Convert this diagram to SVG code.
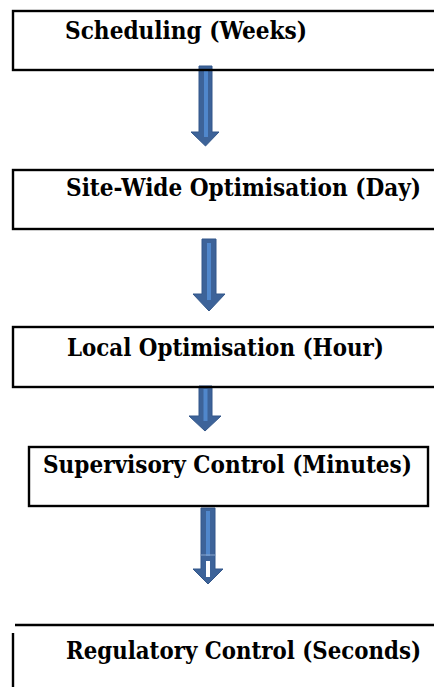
<svg xmlns="http://www.w3.org/2000/svg" width="434" height="687" viewBox="0 0 434 687">
<style>
.box{fill:none;stroke:#000;stroke-width:2.4}
.lbl{font-family:"DejaVu Serif Condensed","DejaVu Serif","Liberation Serif",serif;font-stretch:condensed;font-weight:bold;font-size:24px;fill:#000}
.arr{fill:#3d6399;stroke:#33578a;stroke-width:1}
.hl{fill:#5087cc}
</style>
<rect width="434" height="687" fill="#fff"/>
<g id="connectors">
  <g id="a1">
    <path class="arr" d="M199,66 H212 V132 H219 L205.5,146 L191,132 H199 Z"/>
    <rect class="hl" x="204" y="69" width="4" height="68"/>
  </g>
  <g id="a2">
    <path class="arr" d="M202,239 H216 V294 H225 L209,311 L193,294 H202 Z"/>
    <rect class="hl" x="207" y="243" width="4" height="57"/>
  </g>
  <g id="a3">
    <path class="arr" d="M199,386 H212 V416 H221 L205,431 L189,416 H199 Z"/>
    <rect class="hl" x="203.5" y="389" width="4" height="32"/>
  </g>
  <g id="a4">
    <path class="arr" d="M201,508 H215 V569 H223 L208,584 L193,569 H201 Z"/>
    <rect class="hl" x="206" y="511" width="4" height="45"/>
    <rect x="206" y="561" width="4" height="16" fill="#fff"/>
    <path d="M200,555 H216" stroke="#8aa6cc" stroke-width="1"/>
  </g>
</g>
<g id="n1">
  <rect class="box" x="13" y="11" width="430" height="59"/>
  <text class="lbl" x="65" y="39" textLength="242" lengthAdjust="spacingAndGlyphs">Scheduling (Weeks)</text>
</g>
<g id="n2">
  <rect class="box" x="13" y="170" width="430" height="59"/>
  <text class="lbl" x="66" y="196" textLength="355" lengthAdjust="spacingAndGlyphs">Site-Wide Optimisation (Day)</text>
</g>
<g id="n3">
  <rect class="box" x="13" y="327" width="430" height="60"/>
  <text class="lbl" x="67" y="356" textLength="317" lengthAdjust="spacingAndGlyphs">Local Optimisation (Hour)</text>
</g>
<g id="n4">
  <rect class="box" x="29" y="447" width="399" height="59"/>
  <text class="lbl" x="43" y="473" textLength="369" lengthAdjust="spacingAndGlyphs">Supervisory Control (Minutes)</text>
</g>
<g id="n5">
  <path class="box" d="M15,625 H436 M13,633 V690"/>
  <text class="lbl" x="66" y="659" textLength="355" lengthAdjust="spacingAndGlyphs">Regulatory Control (Seconds)</text>
</g>
</svg>
